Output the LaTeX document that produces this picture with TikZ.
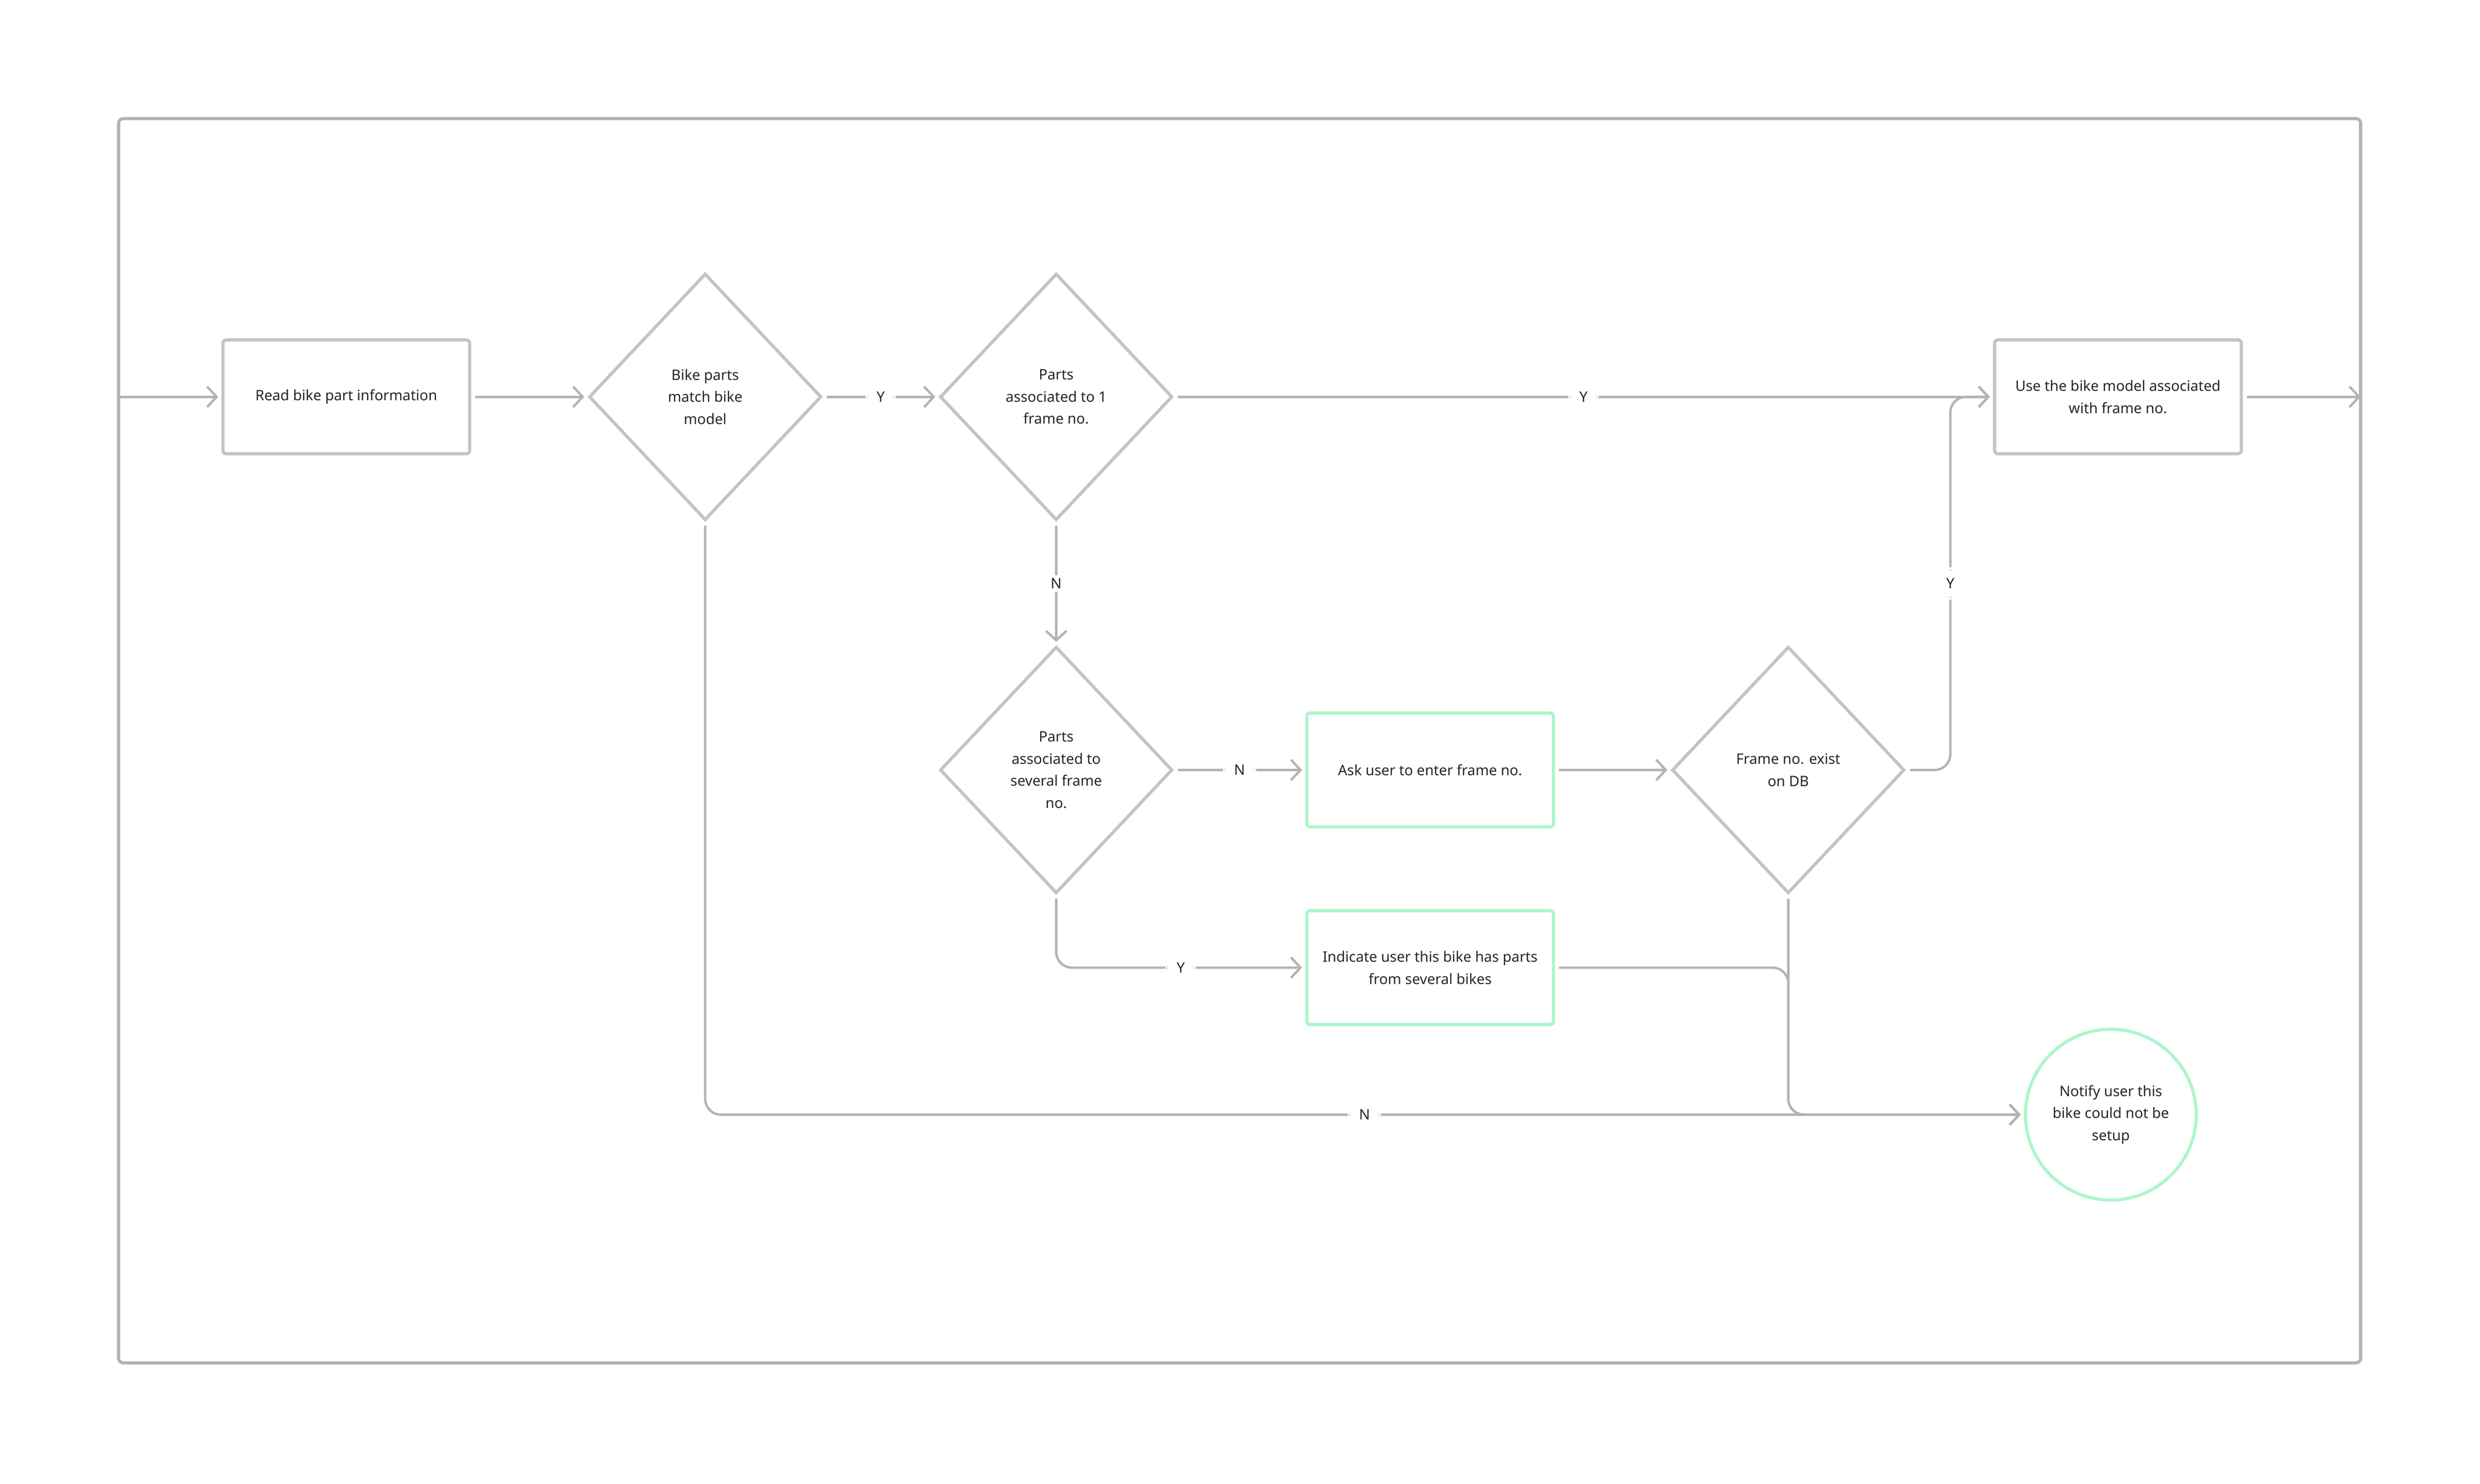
\documentclass[tikz,border=0pt]{standalone}
\usepackage{fontspec}
\setmainfont{Noto Sans}
\usetikzlibrary{shapes.geometric,arrows.meta,calc}
\definecolor{lineg}{HTML}{B3B3B3}
\definecolor{boxg}{HTML}{C4C4C4}
\definecolor{greenb}{HTML}{AEF5CB}
\definecolor{txt}{HTML}{262626}
\begin{document}
\begin{tikzpicture}[x=1pt,y=-1pt,
  every node/.style={font=\fontsize{9.1}{14}\selectfont, text=txt, align=center},
  procbox/.style={draw=boxg, line width=2pt, rounded corners=2pt, minimum width=156pt, minimum height=72pt, inner sep=0pt},
  greenbox/.style={procbox, draw=greenb},
  decision/.style={diamond, draw=boxg, line width=2pt, minimum width=147pt, minimum height=156pt, inner sep=0pt},
  endcircle/.style={circle, draw=greenb, line width=2pt, minimum size=108pt, inner sep=0pt},
  conn/.style={draw=lineg, line width=1.5pt, rounded corners=10pt, shorten <=2.5pt, shorten >=2pt,
    -{Straight Barb[length=6pt,width=13pt,line width=1.5pt]}},
  lbl/.style={fill=white, inner xsep=7pt, inner ysep=2pt}
]
\useasboundingbox (0,0) rectangle (1568.5,938.3);
% frame
\draw[lineg, line width=2pt, rounded corners=3pt] (75,75) rectangle (1493,862);
\coordinate (in) at (75,251);
\coordinate (out) at (1493,251);

\node[procbox] (read) at (219,251) {Read bike part information};
\node[decision] (d1) at (446,251) {Bike parts\\match bike\\model};
\node[decision] (d2) at (668,251) {Parts\\associated to 1\\frame no.};
\node[decision] (d3) at (668,487) {Parts\\associated to\\several frame\\no.};
\node[greenbox] (ask) at (904.5,487) {Ask user to enter frame no.};
\node[decision] (d4) at (1131,487) {Frame no. exist\\on DB};
\node[procbox] (use) at (1339.5,251) {Use the bike model associated\\with frame no.};
\node[greenbox] (ind) at (904.5,612) {Indicate user this bike has parts\\from several bikes};
\node[endcircle] (note) at (1335,705) {Notify user this\\bike could not be\\setup};

\draw[conn, shorten <=0pt] (in) -- (read.west);
\draw[conn] (read.east) -- (d1.west);
\draw[conn] (d1.east) -- node[lbl] (ly1) {Y} (d2.west);
\draw[conn] (d2.east) -- node[lbl] (ly2) {Y} (use.west);
\draw[conn] (d2.south) -- node[lbl] (ln1) {N} (d3.north);
\draw[conn] (d3.east) -- node[lbl] (ln2) {N} (ask.west);
\draw[conn] (ask.east) -- (d4.west);
\draw[conn] (d4.east) -| node[lbl, pos=0.75, inner xsep=2pt, inner ysep=7pt] (ly4) {Y} ($(use.west)+(-27,0)$) -- (use.west);
\draw[conn] (d3.south) |- node[lbl, pos=0.75] (ly3) {Y} (ind.west);
\draw[conn] (ind.east) -| (d4.south |- note.west) -- (note.west);
\draw[conn] (d4.south) |- (note.west);
\draw[conn] (d1.south) |- node[lbl, pos=0.75] (ln3) {N} (note.west);
\draw[conn, shorten >=0pt] (use.east) -- (out);
\end{tikzpicture}
\end{document}
